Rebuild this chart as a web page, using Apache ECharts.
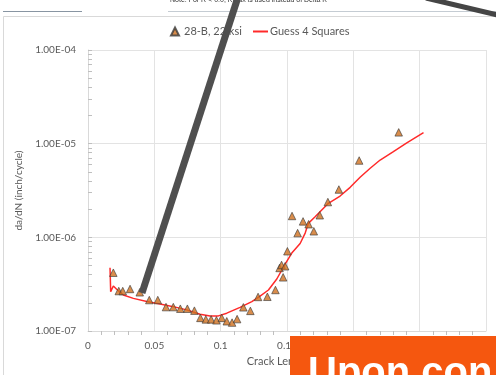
<!DOCTYPE html>
<html>
<head>
<meta charset="utf-8">
<script src="https://cdn.jsdelivr.net/npm/echarts@6/dist/echarts.min.js"></script>
<style>html,body{margin:0;padding:0;background:#fff;}#c{width:496px;height:375px;}</style>
</head>
<body>
<div id="c"></div>
<script>
// Measured data: 28-B, 22 ksi
var crackLength = [0.0191,0.0232,0.0262,0.0317,0.0390,0.0462,0.0526,0.0588,0.0643,0.0696,
  0.0749,0.0802,0.0847,0.0888,0.0928,0.0968,0.1008,0.1046,0.1086,0.1124,
  0.1171,0.1224,0.1282,0.1352,0.1413,0.1471,0.1444,0.1459,0.1486,0.1503,
  0.1580,0.1538,0.1621,0.1663,0.1702,0.1747,0.1808,0.1891,0.2044,0.2342];
var dadN = [4.19e-7,2.67e-7,2.67e-7,2.81e-7,2.59e-7,2.14e-7,2.14e-7,1.80e-7,1.80e-7,1.73e-7,
  1.73e-7,1.65e-7,1.38e-7,1.33e-7,1.33e-7,1.30e-7,1.38e-7,1.27e-7,1.23e-7,1.34e-7,
  1.79e-7,1.64e-7,2.31e-7,2.32e-7,2.74e-7,3.74e-7,4.71e-7,5.07e-7,4.91e-7,7.10e-7,
  1.11e-6,1.69e-6,1.48e-6,1.38e-6,1.16e-6,1.72e-6,2.38e-6,3.24e-6,6.61e-6,1.32e-5];
// Guess 4 Squares curve
var fitLength = [0.0166,0.0171,0.0191,0.0216,0.0266,0.0342,0.0443,0.0543,0.0643,0.0744,
  0.0845,0.0920,0.0983,0.1046,0.1146,0.1235,0.1297,0.1360,0.1423,0.1486,
  0.1536,0.1599,0.1637,0.1661,0.1712,0.1762,0.1812,0.1900,0.1976,0.2051,
  0.2127,0.2202,0.2302,0.2403,0.2529];
var fitRate = [4.74e-7,2.63e-7,3.02e-7,2.79e-7,2.42e-7,2.23e-7,2.06e-7,1.94e-7,1.82e-7,1.68e-7,
  1.51e-7,1.45e-7,1.45e-7,1.55e-7,1.79e-7,2.06e-7,2.36e-7,2.74e-7,3.59e-7,5.19e-7,
  6.80e-7,8.60e-7,1.11e-6,1.41e-6,1.66e-6,1.96e-6,2.31e-6,2.76e-6,3.42e-6,4.38e-6,
  5.46e-6,6.69e-6,8.21e-6,1.02e-5,1.31e-5];
var yMajorTicks = [1e-7,1e-6,1e-5,1e-4];
var xTickValues = [0,0.05,0.1,0.15,0.2,0.25,0.3];
var seriesNames = ['28-B, 22 ksi','Guess 4 Squares'];

function fmtE(v){
  var e = Math.round(Math.log10(v));
  var m = v/Math.pow(10,e);
  var s = Math.abs(e) < 10 ? '0'+Math.abs(e) : ''+Math.abs(e);
  return m.toFixed(2)+'E'+(e<0?'-':'+')+s;
}
var yMinor = [];
for (var d=0; d<yMajorTicks.length-1; d++){ for (var k=1;k<10;k++){ yMinor.push(yMajorTicks[d]*k); } }
yMinor.push(yMajorTicks[yMajorTicks.length-1]);

var scatterData = crackLength.map(function(x,i){return [x,dadN[i]];});
var lineData = fitLength.map(function(x,i){return [x,fitRate[i]];});

var chart = echarts.init(document.getElementById('c'));
var font = 'Lato, "Open Sans", sans-serif';
chart.setOption({
  animation:false,
  backgroundColor:'#fff',
  textStyle:{fontFamily:font},
  grid:{left:88,right:10,top:50,bottom:44},
  legend:[{
    left:165, top:21, itemWidth:8, itemHeight:8, itemGap:10,
    textStyle:{color:'#595959',fontSize:11,fontFamily:font},
    data:[{name:seriesNames[0],icon:'triangle'}]
  },{
    left:248, top:21, itemWidth:15, itemHeight:2,
    textStyle:{color:'#595959',fontSize:11,fontFamily:font,padding:[0,0,0,-3]},
    data:[{name:seriesNames[1],icon:'rect'}]
  }],
  xAxis:{
    type:'value', min:0, max:0.3, interval:0.05,
    name:'Crack Length (in)', nameLocation:'middle', nameGap:25,
    nameTextStyle:{color:'#595959',fontSize:11},
    axisLine:{show:true,lineStyle:{color:'#d9d9d9'}},
    axisTick:{show:false},
    minorTick:{show:true,splitNumber:5,length:4,lineStyle:{color:'#bfbfbf'}},
    axisLabel:{color:'#595959',fontSize:10,margin:10,
      formatter:function(v){return String(+v.toFixed(2));}},
    splitLine:{show:true,lineStyle:{color:'#e3e3e3'}}
  },
  yAxis:[{
    type:'log', logBase:10, min:1e-7, max:1e-4,
    name:'da/dN (inch/cycle)', nameLocation:'middle', nameGap:62,
    nameTextStyle:{color:'#595959',fontSize:10},
    axisLine:{show:true,lineStyle:{color:'#d9d9d9'}},
    axisTick:{show:false},
    axisLabel:{color:'#595959',fontSize:10,margin:12,formatter:fmtE},
    splitLine:{show:true,lineStyle:{color:'#e3e3e3'}}
  },{
    type:'log', logBase:10, min:1e-7, max:1e-4, position:'left',
    axisLine:{show:false},
    axisTick:{show:true,inside:true,length:4,customValues:yMinor,lineStyle:{color:'#bfbfbf'}},
    axisLabel:{show:false},
    splitLine:{show:false}
  }],
  series:[{
    name:seriesNames[0], type:'scatter', symbol:'triangle', symbolSize:7.5, z:3,
    itemStyle:{color:'#D0701F',borderColor:'#3a3a3a',borderWidth:0.8},
    data:scatterData
  },{
    name:seriesNames[1], type:'line', symbol:'none', z:2,
    lineStyle:{color:'#FF2A2A',width:1.5},
    itemStyle:{color:'#FF2A2A'},
    data:lineData
  }],
  graphic:[
    {type:'rect',shape:{x:3.5,y:16.5,width:510,height:380},style:{fill:null,stroke:'#d9d9d9',lineWidth:1},z:-10,silent:true},
    {type:'line',shape:{x1:3,y1:11.5,x2:82,y2:11.5},style:{stroke:'#8895a2',lineWidth:1},z:-5},
    {type:'line',shape:{x1:168,y1:11.5,x2:496,y2:11.5},style:{stroke:'#c5ccd3',lineWidth:1},z:-5},
    {type:'text',x:170,y:-3,style:{text:'Note: For R < 0.0, Kmax is used instead of Delta K',font:'7px "Liberation Sans", sans-serif',fill:'#333'},z:50},
    {type:'line',shape:{x1:142,y1:293,x2:239,y2:-6},style:{stroke:'#4f4f4f',lineWidth:7},z:100},
    {type:'line',shape:{x1:426,y1:-2,x2:502,y2:16},style:{stroke:'#454545',lineWidth:5},z:100},
    {type:'rect',shape:{x:290,y:336,width:210,height:45},style:{fill:'#F5570F'},z:100},
    {type:'text',x:308,y:354,style:{text:'Upon con',font:'bold 40px "Liberation Sans", sans-serif',fill:'#ffffff'},z:101}
  ]
});
</script>
</body>
</html>
